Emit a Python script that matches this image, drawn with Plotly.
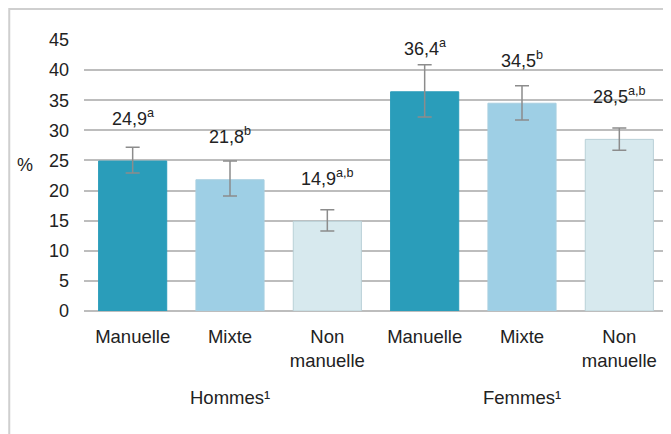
import plotly.graph_objects as go

categories = ["Manuelle", "Mixte", "Non<br>manuelle", "Manuelle", "Mixte", "Non<br>manuelle"]
groups = ["Hommes¹", "Femmes¹"]
values = [24.9, 21.8, 14.9, 36.4, 34.5, 28.5]
labels = ["24,9<sup>a</sup>", "21,8<sup>b</sup>", "14,9<sup>a,b</sup>",
          "36,4<sup>a</sup>", "34,5<sup>b</sup>", "28,5<sup>a,b</sup>"]
err_plus = [2.3, 3.1, 1.9, 4.5, 2.9, 1.9]
err_minus = [2.0, 2.7, 1.6, 4.2, 2.8, 1.8]
colors = ["#2a9dba", "#9ecfe5", "#d7e9ee", "#2a9dba", "#9ecfe5", "#d7e9ee"]
edges = ["#2a9dba", "#a9cfe0", "#b9d0d7", "#2a9dba", "#a9cfe0", "#b9d0d7"]
yticks = [0, 5, 10, 15, 20, 25, 30, 35, 40, 45]

font = "Liberation Sans, Arial, sans-serif"
x = list(range(len(values)))

fig = go.Figure(
    go.Bar(
        x=x,
        y=values,
        marker=dict(color=colors, line=dict(color=edges, width=1)),
        width=0.7,
        error_y=dict(
            type="data",
            symmetric=False,
            array=err_plus,
            arrayminus=err_minus,
            color="#8c8c8c",
            thickness=1.5,
            width=7,
        ),
        hoverinfo="skip",
    )
)

# value labels with significance letters
for xi, v, lab in zip(x, values, labels):
    fig.add_annotation(
        x=xi, y=v + 7.3, text=lab, showarrow=False,
        xanchor="center", yanchor="middle",
        font=dict(family=font, size=18, color="#222222"),
    )

# group labels under the categories
for gi, g in enumerate(groups):
    fig.add_annotation(
        x=gi * 3 + 1, y=-0.321, xref="x", yref="paper", text=g,
        showarrow=False, xanchor="center", yanchor="middle",
        font=dict(family=font, size=18.5, color="#222222"),
    )

fig.add_annotation(
    x=-0.101, y=0.539, xref="paper", yref="paper", text="%",
    showarrow=False, xanchor="center", yanchor="middle",
    font=dict(family=font, size=18, color="#222222"),
)

# outer frame (right and bottom edges fall outside the image)
fig.add_shape(
    type="rect", xref="paper", yref="paper",
    x0=-0.128, x1=1.2, y0=-0.8, y1=1.114,
    line=dict(color="#cfcfcf", width=2),
)

fig.update_layout(
    width=663,
    height=426,
    margin=dict(l=76, r=3, t=32, b=123),
    paper_bgcolor="white",
    plot_bgcolor="white",
    showlegend=False,
    font=dict(family=font, size=18, color="#222222"),
    xaxis=dict(
        tickvals=x,
        ticktext=categories,
        range=[-0.5, 5.5],
        showgrid=False,
        ticks="",
        showline=False,
        zeroline=False,
        ticklabelstandoff=12,
        tickfont=dict(size=18.5),
    ),
    yaxis=dict(
        range=[0, 45],
        tickvals=yticks,
        showgrid=True,
        gridcolor="#bdbdbd",
        gridwidth=1.5,
        zeroline=True,
        zerolinecolor="#bdbdbd",
        zerolinewidth=1.5,
        ticks="",
        ticklabelstandoff=14,
        tickfont=dict(size=18),
    ),
)

fig.write_html("out.html")
